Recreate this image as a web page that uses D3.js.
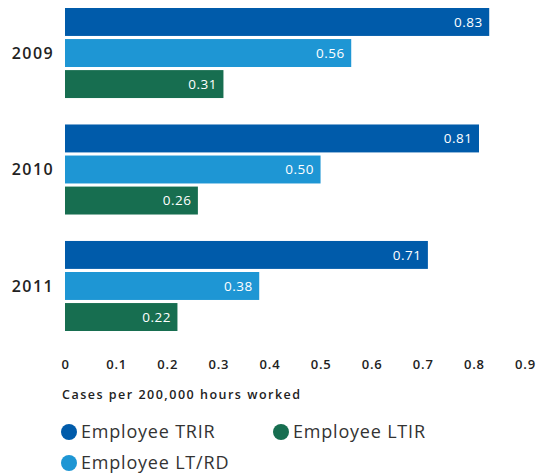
<!DOCTYPE html>
<html>
<head>
<meta charset="utf-8">
<script src="https://cdn.jsdelivr.net/npm/d3@7"></script>
<style>
  body { margin: 0; background: #fff; }
  svg text { font-family: "Open Sans", "DejaVu Sans", sans-serif; }
</style>
</head>
<body>
<div id="chart"></div>
<script>
var years = ["2009", "2010", "2011"];
var seriesNames = ["Employee TRIR", "Employee LT/RD", "Employee LTIR"];
var trir = [0.83, 0.81, 0.71];
var ltrd = [0.56, 0.50, 0.38];
var ltir = [0.31, 0.26, 0.22];
var ticks = [0, 0.1, 0.2, 0.3, 0.4, 0.5, 0.6, 0.7, 0.8, 0.9];
var colors = ["#005baa", "#1e96d4", "#176e50"];

var W = 538, H = 473;

var svg = d3.select("#chart")
  .append("svg")
    .attr("width", W)
    .attr("height", H);

// rows built from the arrays
var rows = years.map(function(y, i) {
  return { year: y, values: [trir[i], ltrd[i], ltir[i]] };
});

var x = d3.scaleLinear()
  .domain([0, 0.9])
  .range([65, 525]);

var y0 = d3.scaleBand()
  .domain(years)
  .range([8, 331])
  .paddingInner(0.227)
  .paddingOuter(0);

var y1 = d3.scaleBand()
  .domain(d3.range(3))
  .range([0, y0.bandwidth()])
  .paddingInner(0.1);

var groups = svg.selectAll("g.year")
  .data(rows)
  .enter()
  .append("g")
    .attr("class", "year")
    .attr("transform", function(d) { return "translate(0," + y0(d.year) + ")"; });

groups.append("text")
  .attr("x", 54)
  .attr("y", y0.bandwidth() / 2)
  .attr("dy", "0.35em")
  .attr("text-anchor", "end")
  .attr("font-size", 16)
  .attr("font-weight", 600)
  .attr("letter-spacing", 1.4)
  .attr("fill", "#222")
  .text(function(d) { return d.year; });

var bars = groups.selectAll("g.bar")
  .data(function(d) { return d.values.map(function(v, i) { return { v: v, i: i }; }); })
  .enter()
  .append("g")
    .attr("class", "bar");

bars.append("rect")
  .attr("x", x(0))
  .attr("y", function(d) { return y1(d.i); })
  .attr("width", function(d) { return x(d.v) - x(0); })
  .attr("height", y1.bandwidth())
  .attr("fill", function(d) { return colors[d.i]; });

bars.append("text")
  .attr("x", function(d) { return x(d.v) - 6.5; })
  .attr("y", function(d) { return y1(d.i) + y1.bandwidth() / 2; })
  .attr("dy", "0.36em")
  .attr("text-anchor", "end")
  .attr("font-size", 13.5)
  .attr("letter-spacing", 0.5)
  .attr("fill", "#fff")
  .text(function(d) { return d3.format(".2f")(d.v); });

// x axis labels only
var axis = svg.append("g")
  .attr("transform", "translate(0,360)")
  .call(d3.axisBottom(x).tickValues(ticks).tickSize(0).tickPadding(0)
    .tickFormat(function(d) { return d === 0 ? "0" : d3.format(".1f")(d); }));
axis.select(".domain").remove();
axis.selectAll("text")
  .attr("font-size", 13)
  .attr("font-weight", 600)
  .attr("letter-spacing", 0.8)
  .attr("fill", "#222")
  .style("font-family", '"Open Sans", "DejaVu Sans", sans-serif');

svg.append("text")
  .attr("x", 62)
  .attr("y", 399)
  .attr("font-size", 12.5)
  .attr("font-weight", 600)
  .attr("letter-spacing", 1.5)
  .attr("fill", "#222")
  .text("Cases per 200,000 hours worked");

// legend
var legendPos = [[69, 432], [69, 463], [281, 432]];
var legend = svg.selectAll("g.legend")
  .data(seriesNames)
  .enter()
  .append("g")
    .attr("class", "legend")
    .attr("transform", function(d, i) { return "translate(" + legendPos[i][0] + "," + legendPos[i][1] + ")"; });

legend.append("circle")
  .attr("r", 8)
  .attr("fill", function(d, i) { return colors[i]; });

legend.append("text")
  .attr("x", 12)
  .attr("dy", "0.35em")
  .attr("font-size", 18)
  .attr("letter-spacing", 0.8)
  .attr("fill", "#333")
  .text(function(d) { return d; });
</script>
</body>
</html>
